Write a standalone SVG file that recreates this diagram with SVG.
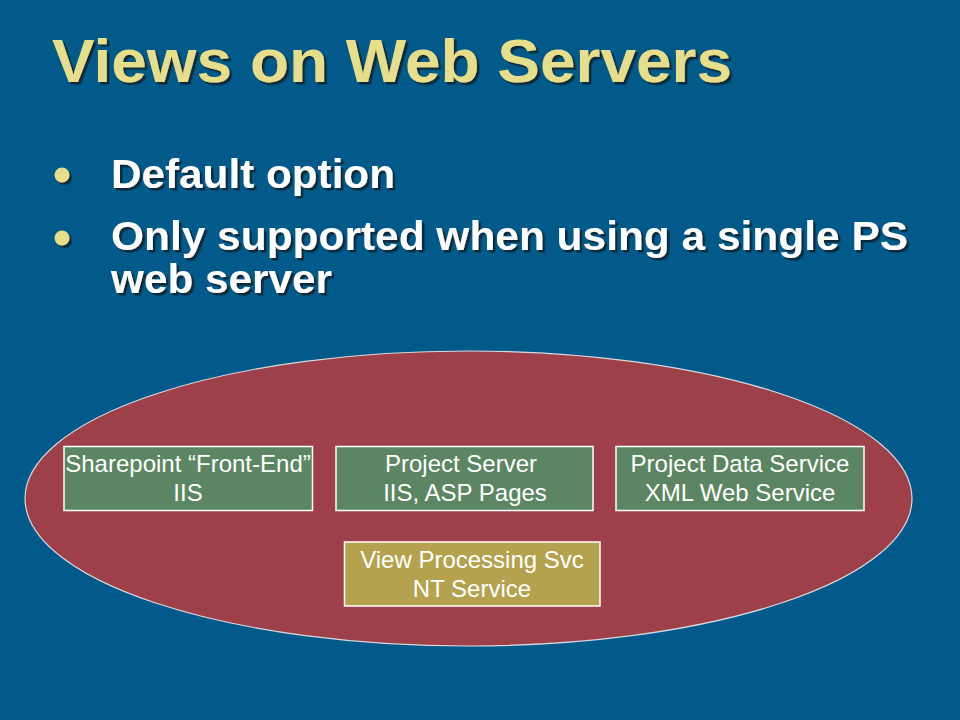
<svg xmlns="http://www.w3.org/2000/svg" width="960" height="720" viewBox="0 0 960 720">
<defs>
<filter id="sh" x="-5%" y="-20%" width="110%" height="150%">
<feDropShadow dx="2.5" dy="2.5" stdDeviation="0.6" flood-color="#0E2233" flood-opacity="0.9"/>
</filter>
</defs>
<style>
.title{font-family:"Liberation Sans",Arial,sans-serif;font-weight:bold;font-size:62px;fill:#E6DE8A}
.bullet{font-family:"Liberation Sans",Arial,sans-serif;font-weight:bold;font-size:40px;fill:#FFFFFF}
.dot{fill:#E6DE8A}
.box{stroke:#FFFFFF;stroke-width:1.5}
.green{fill:#5C8663}
.gold{fill:#B5A24F}
.lbl{font-family:"Liberation Sans",Arial,sans-serif;font-size:24px;fill:#FFFFFF;text-anchor:middle}
</style>
<rect x="0" y="0" width="960" height="720" fill="#015A8A"/>
<g id="title" filter="url(#sh)">
<text class="title" x="52" y="82" textLength="680" lengthAdjust="spacingAndGlyphs">Views on Web Servers</text>
</g>
<g id="bullets" filter="url(#sh)">
<circle class="dot" cx="62" cy="175" r="7.5"/>
<circle class="dot" cx="62" cy="238" r="7.5"/>
<text class="bullet" x="111" y="188" textLength="284" lengthAdjust="spacingAndGlyphs">Default option</text>
<text class="bullet" x="111" y="250" textLength="797" lengthAdjust="spacingAndGlyphs">Only supported when using a single PS</text>
<text class="bullet" x="111" y="293" textLength="221" lengthAdjust="spacingAndGlyphs">web server</text>
</g>
<g id="web-server-ellipse">
<ellipse cx="468.5" cy="498.5" rx="443.5" ry="147.5" fill="#9E404A" stroke="#D8D8E0" stroke-width="1.2"/>
</g>
<g id="connectors"></g>
<g id="sharepoint">
<rect class="box green" x="64" y="446.5" width="248.5" height="64"/>
<text class="lbl" x="188" y="472">Sharepoint “Front-End”</text>
<text class="lbl" x="188" y="501">IIS</text>
</g>
<g id="project-server">
<rect class="box green" x="336" y="446.5" width="257" height="64"/>
<text class="lbl" x="461" y="472">Project Server</text>
<text class="lbl" x="465" y="501">IIS, ASP Pages</text>
</g>
<g id="project-data-service">
<rect class="box green" x="616" y="446.5" width="248" height="64"/>
<text class="lbl" x="740" y="472">Project Data Service</text>
<text class="lbl" x="740" y="501">XML Web Service</text>
</g>
<g id="view-processing">
<rect class="box gold" x="344.5" y="542" width="255.5" height="64"/>
<text class="lbl" x="472" y="568">View Processing Svc</text>
<text class="lbl" x="472" y="597">NT Service</text>
</g>
</svg>
